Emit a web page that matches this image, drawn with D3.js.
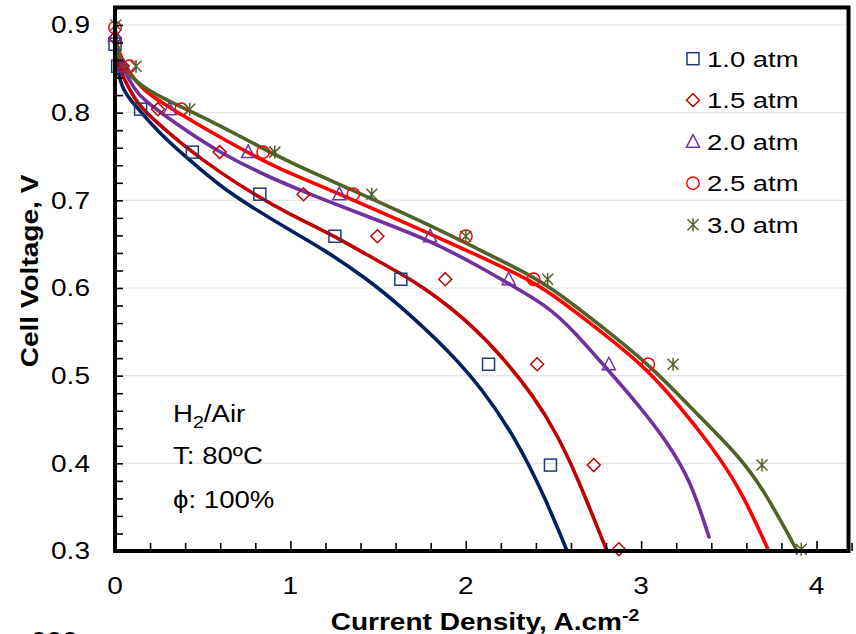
<!DOCTYPE html>
<html>
<head>
<meta charset="utf-8">
<script src="https://cdn.jsdelivr.net/npm/d3@7"></script>
<style>
  html, body { margin: 0; padding: 0; background: #fff; }
  svg { display: block; }
  text { font-family: Arial, "Liberation Sans", sans-serif; fill: #000; }
</style>
</head>
<body>
<svg id="chart" width="856" height="634"></svg>
<script>
// Polarization curves of an H2/Air cell at several back-pressures

const seriesNames = ["1.0 atm", "1.5 atm", "2.0 atm", "2.5 atm", "3.0 atm"];
const markerColors = ["#1f3b7a", "#c00000", "#7030a0", "#ff0000", "#4f6228"];
const lineColors   = ["#002060", "#c00000", "#7030a0", "#ff0000", "#4f6228"];
const markerShapes = ["square", "diamond", "triangle", "circle", "asterisk"];

// Measured points: current density (A/cm²) and cell voltage (V)
const measJ10 = [0, 0.015, 0.146, 0.441, 0.826, 1.254, 1.63, 2.13, 2.483];
const measV10 = [0.878, 0.853, 0.804, 0.755, 0.707, 0.659, 0.61, 0.513, 0.398];
const measJ15 = [0, 0.045, 0.245, 0.597, 1.075, 1.496, 1.883, 2.407, 2.73, 2.873];
const measV15 = [0.885, 0.853, 0.804, 0.755, 0.707, 0.659, 0.61, 0.513, 0.398, 0.302];
const measJ20 = [0, 0.05, 0.311, 0.759, 1.279, 1.797, 2.245, 2.816];
const measV20 = [0.888, 0.853, 0.804, 0.755, 0.707, 0.659, 0.61, 0.513];
const measJ25 = [0, 0.083, 0.378, 0.845, 1.359, 2.001, 2.387, 3.041];
const measV25 = [0.897, 0.853, 0.804, 0.755, 0.707, 0.659, 0.61, 0.513];
const measJ30 = [0.005, 0.12, 0.426, 0.911, 1.464, 2.0, 2.467, 3.182, 3.689, 3.913];
const measV30 = [0.9, 0.853, 0.804, 0.755, 0.707, 0.659, 0.61, 0.513, 0.398, 0.302];

// Model curves
const fitJ10 = [0, 0.005, 0.012, 0.025, 0.045, 0.09, 0.13, 0.25, 0.43, 0.6, 0.79, 0.98, 1.19, 1.44, 1.63, 1.9, 2.09, 2.29, 2.45, 2.58];
const fitV10 = [0.895, 0.875, 0.855, 0.84, 0.827, 0.814, 0.805, 0.777, 0.745, 0.716, 0.691, 0.668, 0.644, 0.61, 0.579, 0.529, 0.486, 0.427, 0.362, 0.299];
const fitJ15 = [0, 0.005, 0.02, 0.04, 0.083, 0.121, 0.235, 0.407, 0.597, 0.807, 0.997, 1.245, 1.435, 1.626, 1.778, 1.911, 2.045, 2.197, 2.387, 2.521, 2.635, 2.807];
const fitV15 = [0.895, 0.877, 0.857, 0.843, 0.827, 0.812, 0.789, 0.760, 0.732, 0.705, 0.684, 0.660, 0.638, 0.617, 0.598, 0.578, 0.555, 0.524, 0.477, 0.433, 0.385, 0.299];
const fitJ20 = [0, 0.005, 0.03, 0.06, 0.111, 0.159, 0.35, 0.597, 0.883, 1.054, 1.226, 1.5, 1.797, 2.083, 2.235, 2.464, 2.62, 2.769, 2.98, 3.15, 3.283, 3.387];
const fitV20 = [0.895, 0.878, 0.858, 0.845, 0.827, 0.815, 0.787, 0.754, 0.726, 0.712, 0.698, 0.677, 0.654, 0.624, 0.606, 0.58, 0.55, 0.516, 0.468, 0.424, 0.38, 0.316];
const fitJ25 = [0, 0.005, 0.04, 0.08, 0.15, 0.2, 0.35, 0.597, 0.883, 1.054, 1.226, 1.626, 2.083, 2.387, 2.54, 2.82, 3.03, 3.2, 3.4, 3.569, 3.73];
const fitV25 = [0.897, 0.88, 0.86, 0.846, 0.829, 0.82, 0.801, 0.772, 0.741, 0.726, 0.712, 0.677, 0.636, 0.607, 0.586, 0.543, 0.508, 0.47, 0.42, 0.37, 0.299];
const fitJ30 = [0, 0.005, 0.026, 0.06, 0.12, 0.187, 0.3, 0.427, 0.6, 0.864, 1.054, 1.34, 1.816, 2.083, 2.235, 2.464, 2.845, 3.054, 3.34, 3.55, 3.7, 3.893];
const fitV30 = [0.9, 0.882, 0.861, 0.848, 0.836, 0.826, 0.814, 0.802, 0.785, 0.757, 0.738, 0.713, 0.67, 0.643, 0.628, 0.605, 0.545, 0.511, 0.452, 0.41, 0.37, 0.299];

// Axis ticks
const xTickLabels = [0, 1, 2, 3, 4];
const yTickLabels = [0.3, 0.4, 0.5, 0.6, 0.7, 0.8, 0.9];
const conditionLines = ["H2/Air", "T: 80ºC", "ϕ: 100%"];

const zip = (J, V) => J.map((j, i) => ({ j, v: V[i] }));
const measured = [zip(measJ10, measV10), zip(measJ15, measV15), zip(measJ20, measV20), zip(measJ25, measV25), zip(measJ30, measV30)];
const fitted   = [zip(fitJ10, fitV10), zip(fitJ15, fitV15), zip(fitJ20, fitV20), zip(fitJ25, fitV25), zip(fitJ30, fitV30)];

const svg = d3.select("#chart");
const TX = 1.22; // horizontal text stretch

const x = d3.scaleLinear().domain([0, 4]).range([115, 816.5]);
const y = d3.scaleLinear().domain([0.3, 0.9]).range([551, 25]);
const plotL = x(0), plotR = 848.5, plotT = y(0.92), plotB = y(0.3);

// horizontal gridlines
svg.append("g").selectAll("line")
  .data(yTickLabels.filter(d => d > 0.3))
  .join("line")
  .attr("x1", plotL).attr("x2", plotR)
  .attr("y1", d => y(d)).attr("y2", d => y(d))
  .attr("stroke", "#e4e4e4").attr("stroke-width", 1.2);

// clip for curves
svg.append("clipPath").attr("id", "plotClip")
  .append("rect").attr("x", plotL).attr("y", plotT).attr("width", plotR - plotL).attr("height", plotB - plotT);

// model curves
const line = d3.line().x(d => x(d.j)).y(d => y(d.v)).curve(d3.curveBasis);
svg.append("g").attr("clip-path", "url(#plotClip)")
  .selectAll("path").data(fitted).join("path")
  .attr("d", line)
  .attr("fill", "none")
  .attr("stroke", (d, i) => lineColors[i])
  .attr("stroke-width", 3.6)
  .attr("stroke-linecap", "round")
  .attr("stroke-linejoin", "round");

// marker drawing
function drawMarker(g, shape, color, cx, cy) {
  const s = 6;
  const common = sel => sel.attr("fill", "none").attr("stroke", color).attr("stroke-width", 1.5);
  if (shape === "square") {
    common(g.append("rect").attr("x", cx - s).attr("y", cy - s).attr("width", 2 * s).attr("height", 2 * s));
  } else if (shape === "diamond") {
    common(g.append("path").attr("d", `M${cx},${cy - 6.5}L${cx + 6.5},${cy}L${cx},${cy + 6.5}L${cx - 6.5},${cy}Z`));
  } else if (shape === "triangle") {
    common(g.append("path").attr("d", `M${cx},${cy - 7}L${cx + 6.5},${cy + 5.5}L${cx - 6.5},${cy + 5.5}Z`));
  } else if (shape === "circle") {
    common(g.append("circle").attr("cx", cx).attr("cy", cy).attr("r", 6.2));
  } else {
    common(g.append("path").attr("d",
      `M${cx},${cy - 6.5}L${cx},${cy + 6.5}M${cx - 5.5},${cy - 5.5}L${cx + 5.5},${cy + 5.5}M${cx - 5.5},${cy + 5.5}L${cx + 5.5},${cy - 5.5}`));
  }
}

const markerLayer = svg.append("g");
measured.forEach((pts, i) => {
  const g = markerLayer.append("g");
  pts.forEach(p => drawMarker(g, markerShapes[i], markerColors[i], x(p.j), y(p.v)));
});

// axes: inward ticks
const xMinor = d3.range(0, 4.21, 0.2);
const yMinor = d3.range(0.3, 0.921, 0.02);
svg.append("g").attr("transform", `translate(0,${plotB})`)
  .call(d3.axisBottom(x).tickValues(xMinor).tickSizeInner(-8).tickSizeOuter(0).tickFormat(""))
  .call(g => g.select(".domain").remove())
  .call(g => g.selectAll(".tick line").attr("stroke", "#000").attr("stroke-width", 1.6)
    .attr("y2", d => Math.abs(d - Math.round(d)) < 1e-6 ? -10 : -8));
svg.append("g").attr("transform", `translate(${plotL},0)`)
  .call(d3.axisLeft(y).tickValues(yMinor).tickSizeInner(-8).tickSizeOuter(0).tickFormat(""))
  .call(g => g.select(".domain").remove())
  .call(g => g.selectAll(".tick line").attr("stroke", "#000").attr("stroke-width", 1.6));

// frame
svg.append("rect")
  .attr("x", plotL).attr("y", plotT).attr("width", plotR - plotL).attr("height", plotB - plotT)
  .attr("fill", "none").attr("stroke", "#000").attr("stroke-width", 4);

// tick labels
svg.append("g").selectAll("text").data(yTickLabels).join("text")
  .attr("transform", d => `translate(90,${y(d) + 8.2}) scale(${TX},1)`)
  .attr("text-anchor", "end").attr("font-size", 23)
  .text(d => d.toFixed(1));
svg.append("g").selectAll("text").data(xTickLabels).join("text")
  .attr("transform", d => `translate(${x(d)},594) scale(${TX},1)`)
  .attr("text-anchor", "middle").attr("font-size", 23)
  .text(d => d);

// axis titles
svg.append("text")
  .attr("transform", `translate(38,271) rotate(-90) scale(${TX},1)`)
  .attr("text-anchor", "middle").attr("font-size", 23).attr("font-weight", "bold")
  .text("Cell Voltage, V");
const xt = svg.append("text")
  .attr("transform", `translate(485,630) scale(${TX},1)`)
  .attr("text-anchor", "middle").attr("font-size", 23).attr("font-weight", "bold");
xt.append("tspan").text("Current Density, A.cm");
xt.append("tspan").attr("font-size", 16).attr("dy", -9).text("-2");

// legend
const legend = svg.append("g");
seriesNames.forEach((name, i) => {
  const by = 66.7 + i * 41.5;
  drawMarker(legend, markerShapes[i], markerColors[i], 693, by - 8);
  legend.append("text")
    .attr("transform", `translate(707,${by}) scale(${TX},1)`)
    .attr("font-size", 22.5).text(name);
});

// operating conditions
const condY = [421.7, 464, 508];
conditionLines.forEach((t, i) => {
  const tx = svg.append("text")
    .attr("transform", `translate(173,${condY[i]}) scale(1.15,1)`)
    .attr("font-size", 24);
  if (t.startsWith("H2")) {
    tx.append("tspan").text("H");
    tx.append("tspan").attr("font-size", 17).attr("dy", 6).text("2");
    tx.append("tspan").attr("dy", -6).text("/Air");
  } else {
    tx.text(t);
  }
});

// footer fragment at the page edge
svg.append("text")
  .attr("transform", `translate(31,649) scale(${TX},1)`)
  .attr("font-size", 23).text("000");
</script>
</body>
</html>
